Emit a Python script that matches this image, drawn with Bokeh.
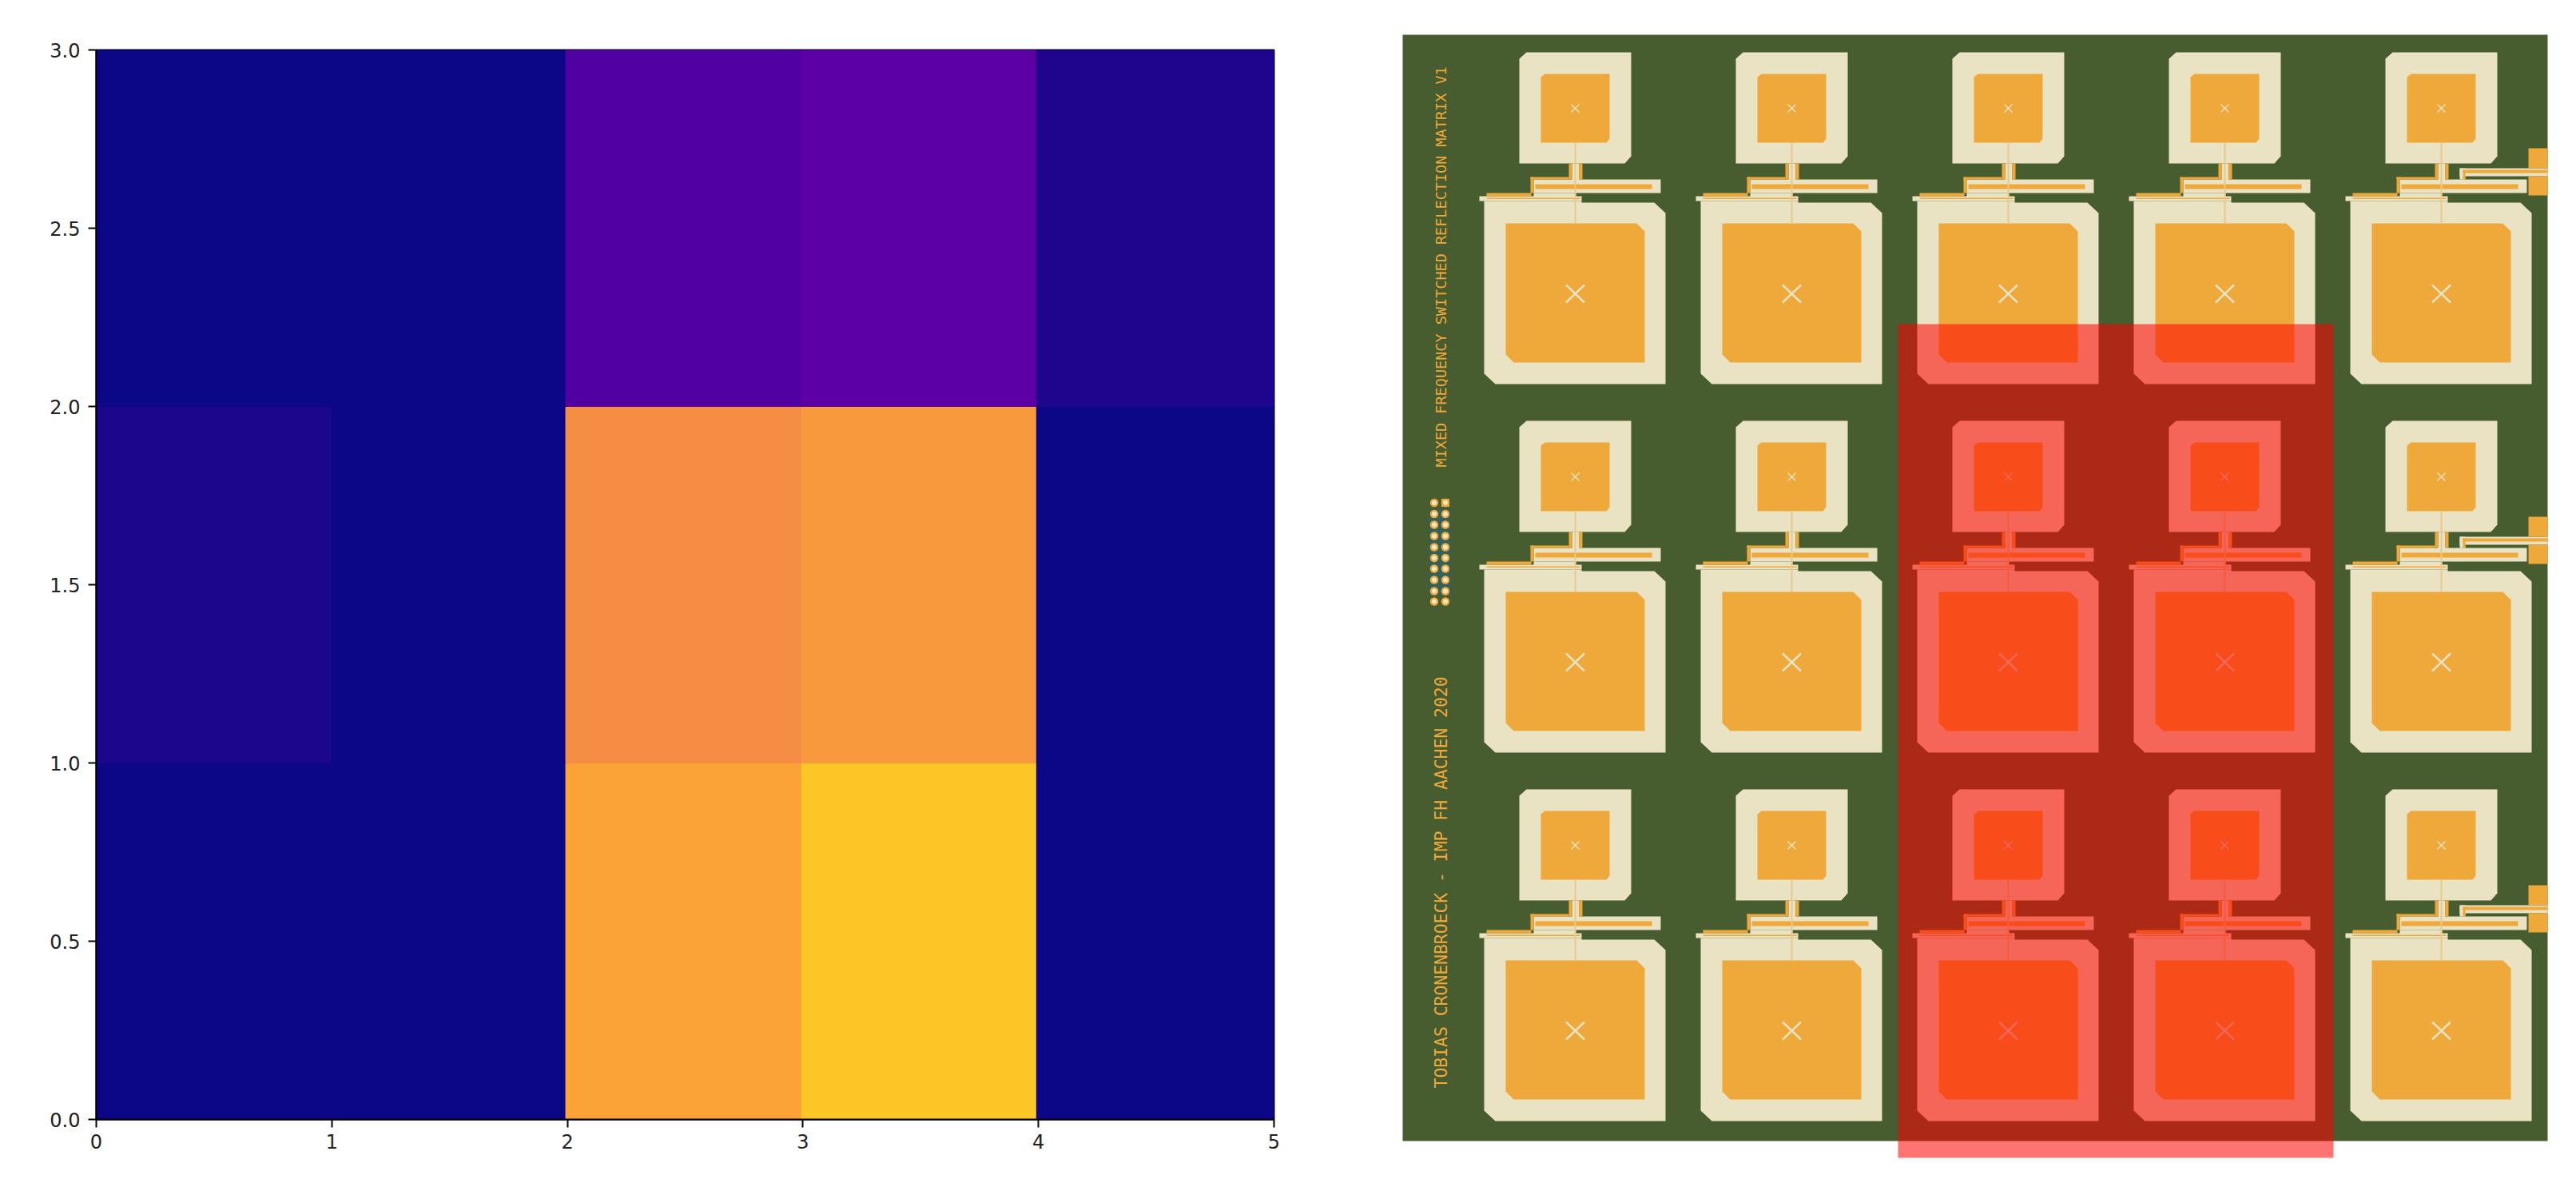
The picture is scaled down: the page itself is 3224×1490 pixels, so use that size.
import math
from bokeh.plotting import figure
from bokeh.layouts import row
from bokeh.embed import file_html
from bokeh.resources import INLINE
from bokeh.models import Range1d, FixedTicker, LinearColorMapper, ColumnDataSource
from bokeh.palettes import Plasma256
from bokeh.core.properties import value

# ---- heat map data ----
x_edges = [0, 1, 1.993, 2.995, 3.992, 5]
y_edges = [0, 1, 2, 3]
row_0 = [0.000, 0.000, 0.790, 0.885, 0.000]
row_1 = [0.020, 0.000, 0.730, 0.765, 0.000]
row_2 = [0.000, 0.000, 0.140, 0.165, 0.030]
heat_rows = [row_0, row_1, row_2]
x_ticks = [0, 1, 2, 3, 4, 5]
y_ticks = [0.0, 0.5, 1.0, 1.5, 2.0, 2.5, 3.0]
y_tick_labels = ["0.0", "0.5", "1.0", "1.5", "2.0", "2.5", "3.0"]

# ---- board picture data (page pixels) ----
cell_x = [1971, 2242, 2513, 2784, 3055]
cell_y = [135, 596, 1057]
label_bottom = "TOBIAS CRONENBROECK - IMP FH AACHEN 2020"
label_top = "MIXED FREQUENCY SWITCHED REFLECTION MATRIX V1"
header_x = [1794.5, 1808.5]
header_y = [628.5, 642.5, 656, 670, 684, 697.5, 711, 725, 739, 752]

GREEN = "#475c2f"
CREAM = "#e9e2c3"
ORANGE = "#efa93a"
TRACE = "#e9c88c"
FONT = "DejaVu Sans"
MONO = "DejaVu Sans Mono"

# ---- left panel ----
mapper = LinearColorMapper(palette=Plasma256, low=0, high=1)
left, right, bottom, top, vals = [], [], [], [], []
for j, r in enumerate(heat_rows):
    for i, v in enumerate(r):
        left.append(x_edges[i]); right.append(x_edges[i + 1])
        bottom.append(y_edges[j]); top.append(y_edges[j + 1])
        vals.append(v)
src = ColumnDataSource(dict(left=left, right=right, bottom=bottom, top=top, v=vals))

p1 = figure(width=1720, height=1480, output_backend="svg", toolbar_location=None,
            x_range=Range1d(0, 5), y_range=Range1d(0, 3),
            min_border_left=120, min_border_right=126, min_border_top=62, min_border_bottom=80)
p1.frame_align = False
p1.quad(left="left", right="right", bottom="bottom", top="top", source=src,
        fill_color={"field": "v", "transform": mapper},
        line_color={"field": "v", "transform": mapper}, line_width=1)
p1.grid.visible = False
p1.outline_line_color = "#000000"
p1.outline_line_width = 2
p1.xaxis.ticker = FixedTicker(ticks=x_ticks)
p1.yaxis.ticker = FixedTicker(ticks=y_ticks)
p1.yaxis.major_label_overrides = {t: l for t, l in zip(y_ticks, y_tick_labels)}
for ax in (p1.xaxis[0], p1.yaxis[0]):
    ax.major_tick_out = 10
    ax.major_tick_in = 0
    ax.minor_tick_out = 0
    ax.minor_tick_in = 0
    ax.major_tick_line_width = 2
    ax.major_tick_line_color = "#000000"
    ax.axis_line_color = "#000000"
    ax.axis_line_width = 2
    ax.major_label_text_font = FONT
    ax.major_label_text_font_size = "24px"
    ax.major_label_text_color = "#222222"
    ax.major_label_standoff = 8
p1.yaxis[0].major_label_orientation = "horizontal"
p1.yaxis[0].major_label_standoff = 10

# ---- right panel: coordinates are page pixels ----
p2 = figure(width=1488, height=1480, output_backend="svg", toolbar_location=None,
            x_range=Range1d(1720, 3208), y_range=Range1d(1480, 0),
            min_border=0, outline_line_color=None)
p2.frame_align = False
p2.axis.visible = False
p2.grid.visible = False

p2.quad(left=[1755], right=[3188], top=[43], bottom=[1427], fill_color=GREEN, line_color=None)


def chamfer(x0, x1, y0, y1, tl=None, tr=None, br=None, bl=None):
    xs, ys = [], []
    if tl:
        xs += [x0, x0 + tl[0]]; ys += [y0 + tl[1], y0]
    else:
        xs += [x0]; ys += [y0]
    if tr:
        xs += [x1 - tr[0], x1]; ys += [y0, y0 + tr[1]]
    else:
        xs += [x1]; ys += [y0]
    if br:
        xs += [x1, x1 - br[0]]; ys += [y1 - br[1], y1]
    else:
        xs += [x1]; ys += [y1]
    if bl:
        xs += [x0 + bl[0], x0]; ys += [y1, y1 - bl[1]]
    else:
        xs += [x0]; ys += [y1]
    return xs, ys


layers = {"cream": ([], []), "orange": ([], [])}


def add(layer, xs, ys):
    layers[layer][0].append(xs)
    layers[layer][1].append(ys)


def box(layer, x0, x1, y0, y1):
    add(layer, [x0, x1, x1, x0], [y0, y0, y1, y1])


trace_x, trace_y = [], []
cross_big_x, cross_big_y, cross_small_x, cross_small_y = [], [], [], []

for cy in cell_y:
    for cx in cell_x:
        # outer patches
        xs, ys = chamfer(cx - 70, cx + 70, cy - 70, cy + 69, tl=(9, 8), br=(8, 9))
        add("cream", xs, ys)
        xs = [cx - 114, cx + 8, cx + 8, cx + 99, cx + 113, cx + 113, cx - 100, cx - 114]
        ys = [cy + 116, cy + 116, cy + 118, cy + 118, cy + 131, cy + 345, cy + 345, cy + 332]
        add("cream", xs, ys)
        # feed network, cream
        box("cream", cx - 4, cx + 5, cy + 69, cy + 90)
        box("cream", cx - 52, cx + 107, cy + 89, cy + 106)
        box("cream", cx - 52, cx + 1, cy + 106, cy + 112)
        box("cream", cx - 120, cx + 8, cy + 110, cy + 116)
        # feed network, orange
        box("orange", cx - 8, cx - 4, cy + 69, cy + 89)
        box("orange", cx + 5, cx + 9, cy + 69, cy + 89)
        box("orange", cx - 56, cx - 8, cy + 86, cy + 89)
        box("orange", cx - 56, cx - 52, cy + 86, cy + 106)
        box("orange", cx - 50, cx + 96, cy + 95, cy + 101)
        box("orange", cx - 111, cx - 55, cy + 106, cy + 110)
        box("orange", cx - 111, cx + 6, cy + 112, cy + 113.5)
        # inner patches
        xs, ys = chamfer(cx - 43, cx + 43, cy - 43, cy + 43, tl=(5, 4), br=(4, 5))
        add("orange", xs, ys)
        xs, ys = chamfer(cx - 87, cx + 87, cy + 144, cy + 318, tr=(10, 10), bl=(10, 10))
        add("orange", xs, ys)
        # thin traces
        trace_x.append([cx, cx]); trace_y.append([cy + 43, cy + 144])
        # crosses
        cross_small_x += [[cx - 5, cx + 5], [cx - 5, cx + 5]]
        cross_small_y += [[cy - 5, cy + 5], [cy + 5, cy - 5]]
        bigy = cy + 232
        cross_big_x += [[cx - 11.5, cx + 11.5], [cx - 11.5, cx + 11.5]]
        cross_big_y += [[bigy - 11, bigy + 11], [bigy + 11, bigy - 11]]

    # connector on the last column
    cx = cell_x[-1]
    box("orange", cx + 109, 3188, cy + 50, cy + 75)
    box("orange", cx + 109, 3188, cy + 85, cy + 109)
    box("cream", cx + 23, 3188, cy + 75, cy + 85)
    box("cream", cx + 23, cx + 30, cy + 75, cy + 89)
    box("orange", cx + 27, 3188, cy + 77, cy + 81)
    box("orange", cx + 27, cx + 30, cy + 77, cy + 89)

p2.patches(layers["cream"][0], layers["cream"][1], fill_color=CREAM, line_color=None)
p2.patches(layers["orange"][0], layers["orange"][1], fill_color=ORANGE, line_color=None)
p2.multi_line(trace_x, trace_y, line_color=TRACE, line_width=2)
p2.multi_line(cross_small_x, cross_small_y, line_color=CREAM, line_width=1.5)
p2.multi_line(cross_big_x, cross_big_y, line_color=CREAM, line_width=2.5)

# pin header
p2.quad(left=[1788], right=[1815], top=[637], bottom=[744], fill_color="#35605a", line_color=None)
hx = [x for x in header_x for _ in header_y]
hy = [y for _ in header_x for y in header_y]
p2.ellipse(hx, hy, width=10.5, height=10.5, fill_color=ORANGE, line_color=None)
p2.quad(left=[header_x[1] - 5], right=[header_x[1] + 5], top=[header_y[0] - 5],
        bottom=[header_y[0] + 5], fill_color=ORANGE, line_color=None)
p2.ellipse(hx, hy, width=6, height=6, fill_color="#f3e7c4", line_color=None)

# board lettering
p2.text(x=[1803], y=[1361], text=[label_bottom], angle=math.pi / 2, text_font=value(MONO),
        text_font_size="21.4px", text_color=ORANGE, text_align="left", text_baseline="middle")
p2.text(x=[1803], y=[584], text=[label_top], angle=math.pi / 2, text_font=value(MONO),
        text_font_size="18.5px", text_color=ORANGE, text_align="left", text_baseline="middle")

# translucent red selection
p2.quad(left=[2375], right=[2920], top=[405], bottom=[1448], fill_color="#ff0000",
        fill_alpha=0.55, line_color=None)

page = row(p1, p2)
open("out.html", "w").write(file_html(page, INLINE))
